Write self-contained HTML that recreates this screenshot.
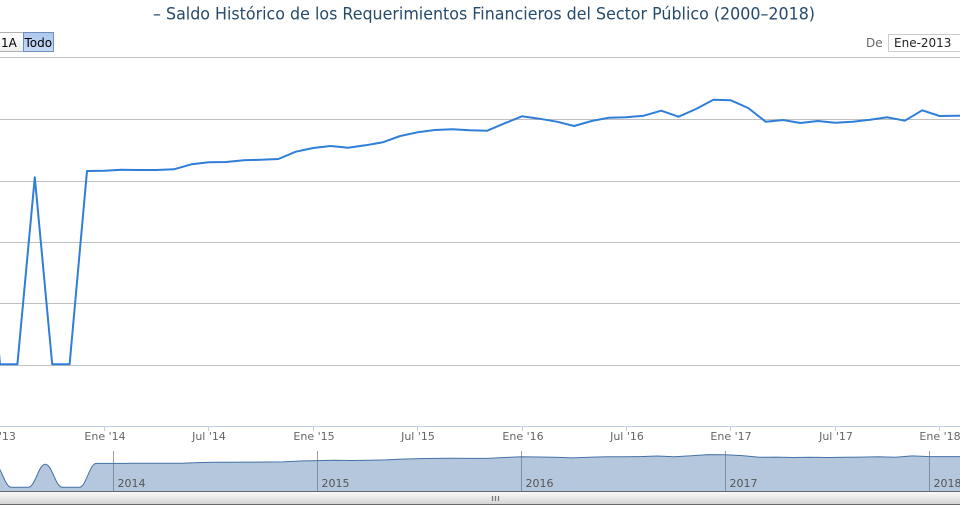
<!DOCTYPE html>
<html>
<head>
<meta charset="utf-8">
<style>
html,body{margin:0;padding:0;background:#fff;width:960px;height:511px;overflow:hidden;}
svg{display:block;}
text{font-family:"DejaVu Sans","Liberation Sans",sans-serif;}
</style>
</head>
<body>
<svg width="960" height="511" viewBox="0 0 960 511" xmlns="http://www.w3.org/2000/svg">
  <defs>
    <linearGradient id="sb" x1="0" y1="0" x2="0" y2="1">
      <stop offset="0" stop-color="#fbfbfb"/>
      <stop offset="1" stop-color="#d2d2d2"/>
    </linearGradient>
    <linearGradient id="btn" x1="0" y1="0" x2="0" y2="1">
      <stop offset="0" stop-color="#ffffff"/>
      <stop offset="1" stop-color="#eeeeee"/>
    </linearGradient>
    <linearGradient id="btnsel" x1="0" y1="0" x2="0" y2="1">
      <stop offset="0" stop-color="#acc7ee"/>
      <stop offset="1" stop-color="#c6daf6"/>
    </linearGradient>
  </defs>

  <rect x="0" y="0" width="960" height="511" fill="#ffffff"/>

  <!-- Title -->
  <text x="153" y="19.5" font-size="17" fill="#274b6d" textLength="662" lengthAdjust="spacingAndGlyphs" font-family="DejaVu Sans Condensed, DejaVu Sans, sans-serif">– Saldo Histórico de los Requerimientos Financieros del Sector Público (2000–2018)</text>

  <!-- Range selector buttons -->
  <rect x="-5.5" y="32.5" width="29" height="19" fill="url(#btn)" stroke="#b0b0b0" stroke-width="1"/>
  <text x="1" y="47" font-size="12" fill="#000">1A</text>
  <rect x="23.5" y="32.5" width="30" height="19" fill="url(#btnsel)" stroke="#6e8ebd" stroke-width="1"/>
  <text x="24.5" y="47" font-size="12" fill="#000">Todo</text>

  <!-- De input -->
  <text x="866" y="47" font-size="12" fill="#666">De</text>
  <rect x="888.5" y="34.5" width="80" height="17" fill="#fff" stroke="#cccccc" stroke-width="1"/>
  <text x="894" y="47" font-size="12" fill="#222">Ene-2013</text>

  <!-- Grid lines -->
  <g stroke="#c0c0c0" stroke-width="1">
    <line x1="0" y1="57.5" x2="960" y2="57.5"/>
    <line x1="0" y1="119.5" x2="960" y2="119.5"/>
    <line x1="0" y1="181.5" x2="960" y2="181.5"/>
    <line x1="0" y1="242.5" x2="960" y2="242.5"/>
    <line x1="0" y1="303.5" x2="960" y2="303.5"/>
    <line x1="0" y1="365.5" x2="960" y2="365.5"/>
  </g>

  <!-- X axis line and ticks -->
  <line x1="0" y1="426.5" x2="960" y2="426.5" stroke="#c0d0e0" stroke-width="1"/>
  <g stroke="#c0d0e0" stroke-width="1">
    <line x1="104.5" y1="426" x2="104.5" y2="431"/>
    <line x1="208.5" y1="426" x2="208.5" y2="431"/>
    <line x1="313.5" y1="426" x2="313.5" y2="431"/>
    <line x1="417.5" y1="426" x2="417.5" y2="431"/>
    <line x1="522.5" y1="426" x2="522.5" y2="431"/>
    <line x1="626.5" y1="426" x2="626.5" y2="431"/>
    <line x1="730.5" y1="426" x2="730.5" y2="431"/>
    <line x1="835.5" y1="426" x2="835.5" y2="431"/>
    <line x1="939.5" y1="426" x2="939.5" y2="431"/>
  </g>
  <g font-size="11" fill="#666" text-anchor="middle">
    <text x="-1" y="440">Jul '13</text>
    <text x="105" y="440">Ene '14</text>
    <text x="209" y="440">Jul '14</text>
    <text x="314" y="440">Ene '15</text>
    <text x="418" y="440">Jul '15</text>
    <text x="523" y="440">Ene '16</text>
    <text x="627" y="440">Jul '16</text>
    <text x="731" y="440">Ene '17</text>
    <text x="836" y="440">Jul '17</text>
    <text x="940" y="440">Ene '18</text>
  </g>

  <!-- Main series -->
  <polyline fill="none" stroke="#2f7ed8" stroke-width="2" stroke-linejoin="round" stroke-linecap="round"
    points="-17.4,177 0,364.3 17.4,364.3 34.8,177.3 52.2,364.3 69.6,364.3 87,171 104.4,170.7 121.8,169.8 139.2,170 156.6,170 174,169.3 191.4,164.3 208.8,162.2 226.2,162 243.6,160.3 261,159.7 278.4,159 295.8,151.7 313.2,148 330.6,146 348,147.7 365.4,145.3 382.8,142.3 400.2,136 417.6,132.3 435,130 452.4,129.3 469.8,130.3 487.2,130.7 504.6,123.3 522,116.3 539.4,118.7 556.8,121.7 574.2,126 591.6,121 609,117.7 626.4,117.3 643.8,115.7 661.2,110.7 678.6,116.7 696,109 713.4,99.7 730.8,100.3 748.2,108 765.6,121.7 783,120 800.4,123 817.8,121 835.2,122.7 852.6,121.7 870,119.7 887.4,117.3 904.8,120.7 922.2,110.3 939.6,116 957,115.7 974.4,115.7"/>

  <!-- Navigator -->
  <g stroke="#a0a0a0" stroke-width="1">
    <line x1="113.5" y1="451" x2="113.5" y2="491"/>
    <line x1="317.5" y1="451" x2="317.5" y2="491"/>
    <line x1="521.5" y1="451" x2="521.5" y2="491"/>
    <line x1="725.5" y1="451" x2="725.5" y2="491"/>
    <line x1="929.5" y1="451" x2="929.5" y2="491"/>
  </g>
  <path fill="rgba(69,114,167,0.4)" stroke="none"
    d="M -5.7 464.2 C 1.1 464.2 4.5 487.3 11.3 487.3 L 28.3 487.3 C 35.1 487.3 38.5 464.2 45.3 464.2 C 52.1 464.2 55.5 487.3 62.3 487.3 L 79.3 487.3 C 86.1 487.3 89.5 463.4 96.3 463.4 L 113.3 463.4 L 130.3 463.3 L 147.3 463.3 L 164.3 463.3 L 181.3 463.2 L 198.3 462.6 L 215.3 462.3 L 232.3 462.3 L 249.3 462.1 L 266.3 462.0 L 283.3 461.9 L 300.3 461.0 L 317.3 460.6 L 334.3 460.3 L 351.3 460.5 L 368.3 460.2 L 385.3 459.9 L 402.3 459.1 L 419.3 458.6 L 436.3 458.4 L 453.3 458.3 L 470.3 458.4 L 487.3 458.4 L 504.3 457.5 L 521.3 456.7 L 538.3 457.0 L 555.3 457.3 L 572.3 457.9 L 589.3 457.2 L 606.3 456.8 L 623.3 456.8 L 640.3 456.6 L 657.3 456.0 L 674.3 456.7 L 691.3 455.8 L 708.3 454.6 L 725.3 454.7 L 742.3 455.6 L 759.3 457.3 L 776.3 457.1 L 793.3 457.5 L 810.3 457.2 L 827.3 457.5 L 844.3 457.3 L 861.3 457.1 L 878.3 456.8 L 895.3 457.2 L 912.3 455.9 L 929.3 456.6 L 946.3 456.6 L 963.3 456.6 L 963.3 491 L -5.7 491 Z"/>
  <path fill="none" stroke="#4572a7" stroke-width="1"
    d="M -5.7 464.2 C 1.1 464.2 4.5 487.3 11.3 487.3 L 28.3 487.3 C 35.1 487.3 38.5 464.2 45.3 464.2 C 52.1 464.2 55.5 487.3 62.3 487.3 L 79.3 487.3 C 86.1 487.3 89.5 463.4 96.3 463.4 L 113.3 463.4 L 130.3 463.3 L 147.3 463.3 L 164.3 463.3 L 181.3 463.2 L 198.3 462.6 L 215.3 462.3 L 232.3 462.3 L 249.3 462.1 L 266.3 462.0 L 283.3 461.9 L 300.3 461.0 L 317.3 460.6 L 334.3 460.3 L 351.3 460.5 L 368.3 460.2 L 385.3 459.9 L 402.3 459.1 L 419.3 458.6 L 436.3 458.4 L 453.3 458.3 L 470.3 458.4 L 487.3 458.4 L 504.3 457.5 L 521.3 456.7 L 538.3 457.0 L 555.3 457.3 L 572.3 457.9 L 589.3 457.2 L 606.3 456.8 L 623.3 456.8 L 640.3 456.6 L 657.3 456.0 L 674.3 456.7 L 691.3 455.8 L 708.3 454.6 L 725.3 454.7 L 742.3 455.6 L 759.3 457.3 L 776.3 457.1 L 793.3 457.5 L 810.3 457.2 L 827.3 457.5 L 844.3 457.3 L 861.3 457.1 L 878.3 456.8 L 895.3 457.2 L 912.3 455.9 L 929.3 456.6 L 946.3 456.6 L 963.3 456.6"/>
  <g font-size="11" fill="#555">
    <text x="117.5" y="487">2014</text>
    <text x="321.5" y="487">2015</text>
    <text x="525.5" y="487">2016</text>
    <text x="729.5" y="487">2017</text>
    <text x="933.5" y="487">2018</text>
  </g>

  <!-- Scrollbar -->
  <rect x="-1" y="491.5" width="962" height="13" fill="url(#sb)" stroke="#666" stroke-width="1"/>
  <g stroke="#777" stroke-width="1.2">
    <line x1="492.5" y1="496" x2="492.5" y2="501"/>
    <line x1="495.5" y1="496" x2="495.5" y2="501"/>
    <line x1="498.5" y1="496" x2="498.5" y2="501"/>
  </g>
</svg>
</body>
</html>
